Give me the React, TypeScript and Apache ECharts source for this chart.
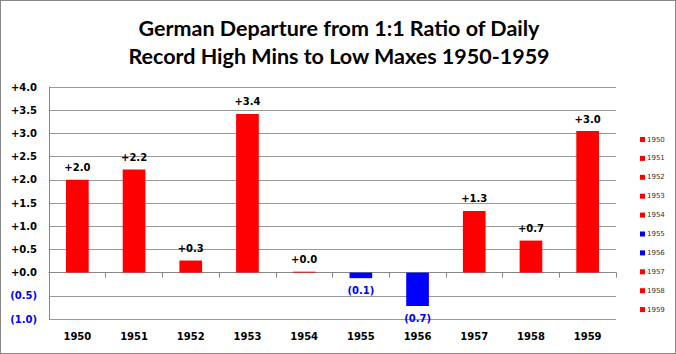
import React, { useEffect, useRef } from "react";
import * as echarts from "echarts";

const years = ["1950", "1951", "1952", "1953", "1954", "1955", "1956", "1957", "1958", "1959"];
const values = [2.0, 2.22, 0.26, 3.42, 0.02, -0.12, -0.72, 1.33, 0.69, 3.05];
const titleText = "German Departure from 1:1 Ratio of Daily\nRecord High Mins to Low Maxes 1950-1959";
const posColor = "#ff0000";
const negColor = "#0000ff";

const fmt = (v: number) => (v >= 0 ? "+" + v.toFixed(1) : "(" + Math.abs(v).toFixed(1) + ")");

export default function App() {
  const ref = useRef<HTMLDivElement>(null);
  useEffect(() => {
    document.body.style.margin = "0";
    const chart = echarts.init(ref.current!, null, { renderer: "svg" });
    const series = years.map((y, i) => ({
      name: y,
      type: "bar",
      stack: "all",
      xAxisIndex: 0,
      barWidth: "40%",
      data: years.map((_, j) => (j === i ? values[i] : "-")),
      itemStyle: { color: values[i] >= 0 ? posColor : negColor },
      label: {
        show: true,
        position: values[i] >= 0 ? "top" : "bottom",
        distance: 7,
        formatter: (p: any) => fmt(p.value),
        color: values[i] >= 0 ? "#000" : negColor,
        fontFamily: "DejaVu Sans",
        fontWeight: "bold",
        fontSize: 10,
      },
    }));
    chart.setOption({
      animation: false,
      graphic: [
        {
          type: "text",
          x: 338,
          y: 13,
          style: {
            text: titleText,
            align: "center",
            verticalAlign: "top",
            font: "bold 21.5px Lato",
            lineHeight: 28,
            fill: "#000",
          },
        },
      ],
      legend: {
        orient: "vertical",
        left: 634,
        top: 130,
        itemWidth: 5,
        itemHeight: 5,
        itemGap: 11.9,
        icon: "rect",
        selectedMode: false,
        textStyle: { fontSize: 7, color: "#333", fontFamily: "DejaVu Sans", padding: [0, 0, 0, -3] },
        data: years,
      },
      grid: { left: 48, right: 59, top: 86, bottom: 34 },
      xAxis: [
        {
          type: "category",
          data: years,
          position: "bottom",
          axisLine: { show: false, onZero: false },
          axisTick: { show: false },
          axisLabel: { color: "#000", fontFamily: "DejaVu Sans", fontWeight: "bold", fontSize: 10, margin: 12 },
        },
        {
          type: "category",
          data: years,
          position: "bottom",
          axisLine: { show: true, onZero: true, lineStyle: { color: "#888", width: 1 } },
          axisTick: { show: true, alignWithLabel: false, length: 5, lineStyle: { color: "#888" } },
          axisLabel: { show: false },
        },
      ],
      yAxis: {
        type: "value",
        min: -1,
        max: 4,
        interval: 0.5,
        axisLine: { show: true, lineStyle: { color: "#888" } },
        axisTick: { show: false },
        splitLine: { lineStyle: { color: "#999", width: 1 } },
        axisLabel: {
          formatter: (v: number) => fmt(v),
          color: (v: any) => (Number(v) < 0 ? negColor : "#000"),
          fontFamily: "DejaVu Sans",
          fontWeight: "bold",
          fontSize: 10,
          margin: 12,
        },
      },
      series,
    });
    return () => chart.dispose();
  }, []);
  return (
    <div
      ref={ref}
      style={{ width: 676, height: 354, border: "1px solid #888", boxSizing: "border-box", background: "#fff" }}
    />
  );
}
